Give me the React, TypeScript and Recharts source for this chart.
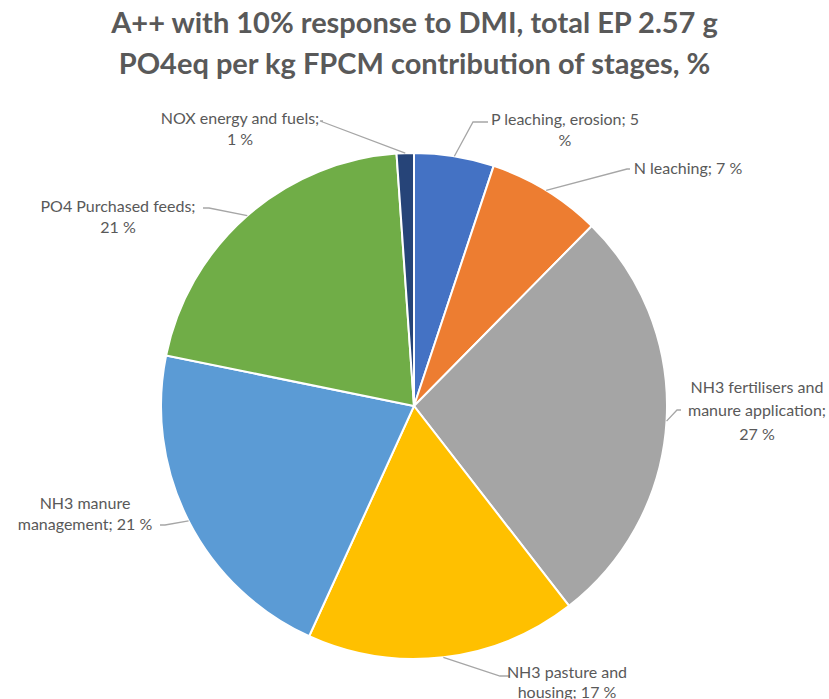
import { PieChart, Pie, Cell } from 'recharts';

const stages = [
  'P leaching, erosion',
  'N leaching',
  'NH3 fertilisers and manure application',
  'NH3 pasture and housing',
  'NH3 manure management',
  'PO4 Purchased feeds',
  'NOX energy and fuels',
];
const shares = [5.1, 7.3, 27.1, 17.3, 21.4, 20.7, 1.1];
const colors = ['#4472C4', '#ED7D31', '#A5A5A5', '#FFC000', '#5B9BD5', '#70AD47', '#264478'];

// label layout, relative to pie centre: text centre x, first line y, line height, leader elbow/end, wrap width in chars
const labelLayout = [
  { tx: 151, ty: -288, lh: 21, ex: 74, ey: -284, bx: 59, by: -284, wrap: 22 },
  { tx: 274, ty: -239, lh: 21, ex: 216, ey: -237, bx: 213, by: -237, wrap: 30 },
  { tx: 343, ty: -20, lh: 23.5, ex: 267, ey: 4, bx: 263, by: 4, wrap: 20 },
  { tx: 153, ty: 265, lh: 20, ex: 96, ey: 270, bx: 86, by: 270, wrap: 15 },
  { tx: -329, ty: 96, lh: 21, ex: -254, ey: 119, bx: -249, by: 119, wrap: 17 },
  { tx: -296, ty: -201, lh: 21, ex: -211, ey: -198, bx: -205, by: -198, wrap: 20 },
  { tx: -174, ty: -289, lh: 21, ex: -91, ey: -285, bx: -94, by: -285, wrap: 21 },
];

const data = stages.map((name, i) => ({ name, value: shares[i] }));
const RAD = Math.PI / 180;

function wrapText(text: string, width: number) {
  const words = text.split(' ');
  const lines: string[] = [];
  let cur = '';
  for (const w of words) {
    const next = cur ? cur + ' ' + w : w;
    if (next.length > width && cur) {
      lines.push(cur);
      cur = w;
    } else cur = next;
  }
  if (cur) lines.push(cur);
  return lines;
}

function renderLabel(props: any) {
  const { cx, cy, midAngle, outerRadius, index, value, name } = props;
  const lay = labelLayout[index];
  const sx = cx + outerRadius * Math.cos(-midAngle * RAD);
  const sy = cy + outerRadius * Math.sin(-midAngle * RAD);
  const lines = wrapText(`${name}; ${Math.round(value)} %`, lay.wrap);
  return (
    <g key={`lbl-${index}`}>
      <polyline
        points={`${sx},${sy} ${cx + lay.bx},${cy + lay.by} ${cx + lay.ex},${cy + lay.ey}`}
        fill="none"
        stroke="#A6A6A6"
        strokeWidth={1.3}
      />
      {lines.map((ln, k) => (
        <text
          key={k}
          x={cx + lay.tx}
          y={cy + lay.ty + k * lay.lh}
          textAnchor="middle"
          dominantBaseline="central"
          fill="#595959"
          fontSize={16}
          fontFamily="Lato"
        >
          {ln}
        </text>
      ))}
    </g>
  );
}

export default function App() {
  return (
    <div style={{ position: 'relative', width: 829, height: 699, background: '#fff' }}>
      <style>{`body{margin:0}`}</style>
      <div
        style={{
          position: 'absolute',
          top: 0,
          left: 0,
          width: 829,
          textAlign: 'center',
          fontFamily: 'Lato',
          fontWeight: 700,
          fontSize: 29,
          lineHeight: '41px',
          color: '#595959',
          paddingTop: 1,
        }}
      >
        A++ with 10% response to DMI, total EP 2.57 g
        <br />
        PO4eq per kg FPCM contribution of stages, %
      </div>
      <div style={{ position: 'absolute', top: 0, left: 0 }}>
        <PieChart width={829} height={699}>
          <Pie
            data={data}
            dataKey="value"
            nameKey="name"
            cx={409}
            cy={401}
            outerRadius={253}
            startAngle={90}
            endAngle={-270}
            stroke="#fff"
            strokeWidth={2}
            label={renderLabel}
            labelLine={false}
            isAnimationActive={false}
          >
            {data.map((d, i) => (
              <Cell key={d.name} fill={colors[i]} />
            ))}
          </Pie>
        </PieChart>
      </div>
    </div>
  );
}
